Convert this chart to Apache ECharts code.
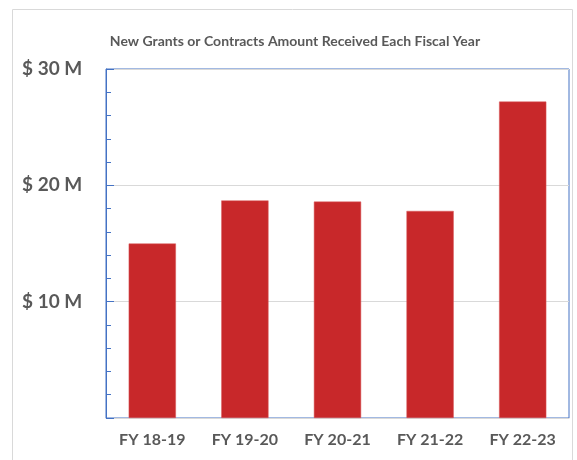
<!DOCTYPE html>
<html>
<head>
<meta charset="utf-8">
<script src="https://cdn.jsdelivr.net/npm/echarts@6/dist/echarts.min.js"></script>
<style>
  html, body { margin: 0; padding: 0; background: #fff; }
  #chart { width: 577px; height: 460px; }
</style>
</head>
<body>
<div id="chart"></div>
<script>
// fiscal years and amounts (millions of dollars)
const years = ['FY 18-19', 'FY 19-20', 'FY 20-21', 'FY 21-22', 'FY 22-23'];
const amounts = [15.0, 18.7, 18.6, 17.8, 27.2];
const titleText = 'New Grants or Contracts Amount Received Each Fiscal Year';

const mychart = echarts.init(document.getElementById('chart'));
const option = {
    animation: false,
    textStyle: { fontFamily: 'Lato' },
    title: {
        text: titleText,
        left: 290,
        textAlign: 'center',
        top: 29,
        textStyle: { fontSize: 14, fontWeight: 'bold', color: '#595959', fontFamily: 'Lato' }
    },
    graphic: [{
        type: 'rect',
        shape: { x: 12.5, y: 9.5, width: 560, height: 470 },
        style: { fill: 'none', stroke: '#d9d9d9', lineWidth: 1 },
        silent: true
    }],
    grid: {
        left: 106, right: 8, top: 69, bottom: 42,
        show: true,
        borderColor: '#4472C4',
        borderWidth: 1
    },
    xAxis: {
        type: 'category',
        data: years,
        axisLine: { lineStyle: { color: '#d9d9d9' } },
        axisTick: { show: false },
        axisLabel: { fontSize: 16, fontWeight: 'bold', color: '#595959', margin: 14 }
    },
    yAxis: {
        type: 'value',
        min: 0, max: 30, interval: 10,
        axisLine: { show: true, lineStyle: { color: '#4472C4' } },
        axisTick: { show: true, inside: true, length: 8, lineStyle: { color: '#4472C4' } },
        minorTick: { show: true, splitNumber: 5, length: 5, lineStyle: { color: '#4472C4' } },
        splitLine: { lineStyle: { color: '#d9d9d9' } },
        axisLabel: {
            align: 'left',
            margin: 84,
            fontSize: 19,
            fontWeight: 'bold',
            color: '#595959',
            formatter: function (v) { return v === 0 ? '' : '$ ' + v + ' M'; }
        }
    },
    series: [{
        type: 'bar',
        data: amounts,
        barWidth: '51%',
        itemStyle: { color: '#C8282A', borderColor: '#d9595b', borderWidth: 0.5 }
    }]
};
mychart.setOption(option);
</script>
</body>
</html>
